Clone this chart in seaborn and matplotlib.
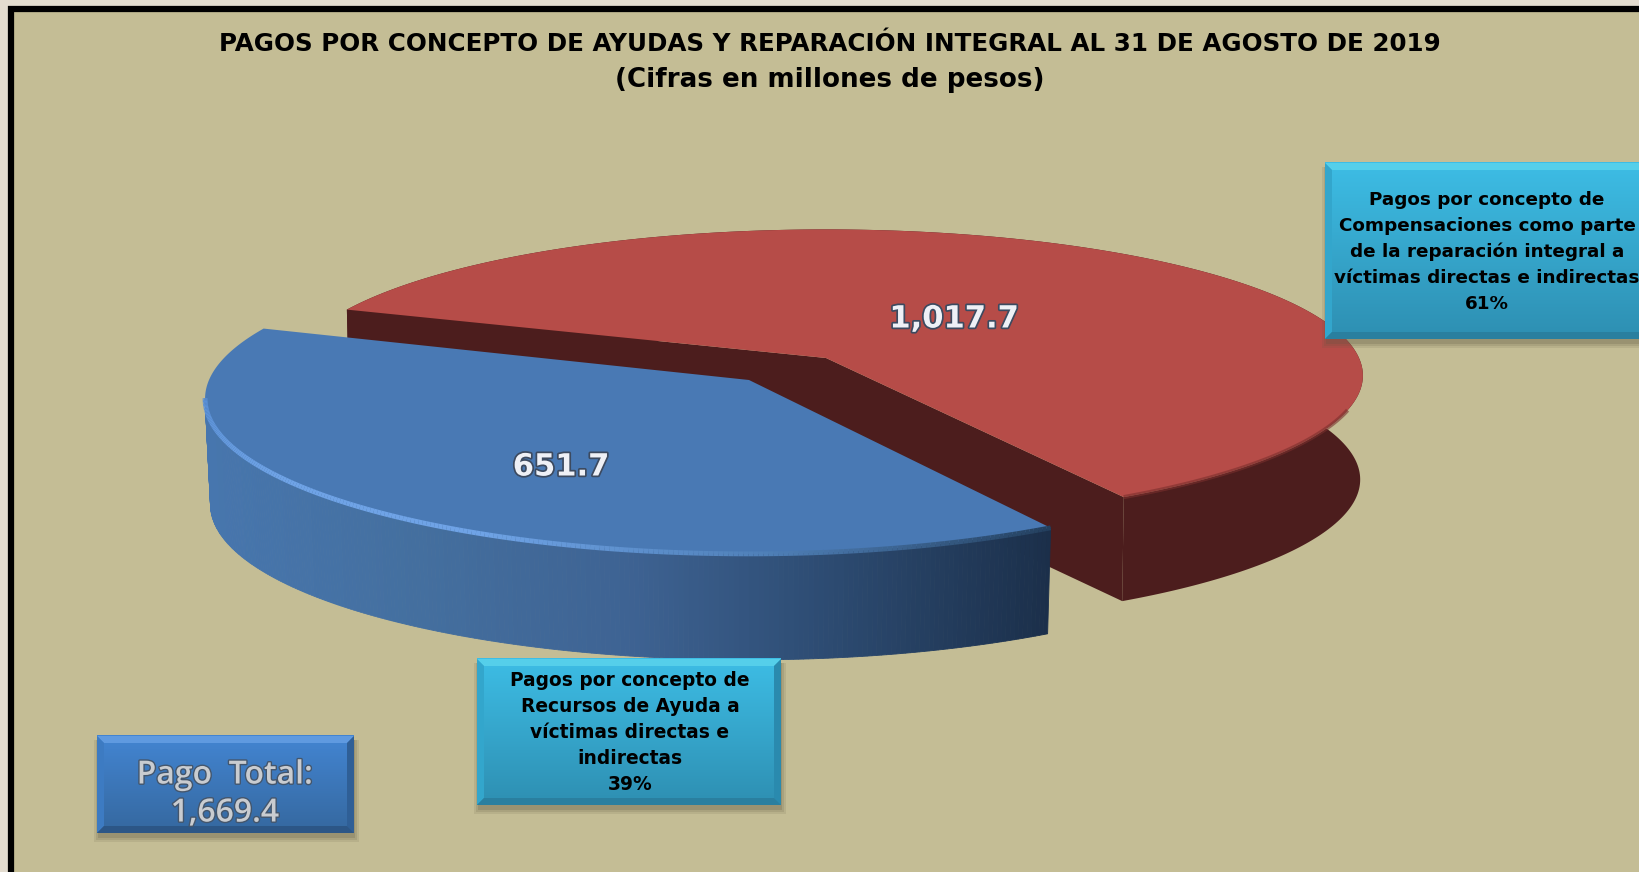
"""
Exploded 3D style pie of payments by concept, drawn in pixel-like axes
"""
import numpy as np
import seaborn as sns
import matplotlib.pyplot as plt
import matplotlib.patheffects as pe
from matplotlib.collections import LineCollection
from matplotlib.patches import Polygon, Rectangle

sns.set_theme(style='white')
plt.rcParams['font.family'] = ['DejaVu Sans']

title_lines = ['PAGOS POR CONCEPTO DE AYUDAS Y REPARACIÓN INTEGRAL AL 31 DE AGOSTO DE 2019',
               '(Cifras en millones de pesos)']
concepts = ['Compensaciones', 'Recursos de Ayuda']
pagos = [1017.7, 651.7]
pago_labels = ['1,017.7', '651.7']
pago_total = '1,669.4'
comp_text = ['Pagos por concepto de', 'Compensaciones como parte', 'de la reparación integral a',
             'víctimas directas e indirectas', '61%']
ayuda_text = ['Pagos por concepto de', 'Recursos de Ayuda a', 'víctimas directas e', 'indirectas', '39%']
total_text = ['Pago  Total:', pago_total]

W, H = 1640, 872
START = 159.5
P = 0.12


def rim(a1, a2, cx, cy, rx, ry, n=300):
    #perspective squashed circle, angles in degrees
    a = np.radians(np.linspace(a1, a2, n))
    u, v = np.cos(a), -np.sin(a)
    w = 1 / (1 - P * v)
    return cx + rx * u * w, cy + ry * v * w


def box(ax, x0, y0, x1, y1, top, bottom, light, left, right, base):
    for grow, alpha in [(5, 0.12), (3, 0.15), (1, 0.2)]:
        ax.add_patch(Rectangle((x0 - grow + 2, y0 + 4), x1 - x0 + 2 * grow - 2, y1 - y0 + grow, color='#5a5640', alpha=alpha, lw=0, zorder=5))
    cmap = sns.blend_palette([top, bottom], as_cmap=True)
    ax.imshow(np.linspace(0, 1, 100)[:, None], extent=(x0, x1, y1, y0), aspect='auto', cmap=cmap, zorder=6)
    b = 7
    ax.add_patch(Polygon([(x0, y0), (x1, y0), (x1 - b, y0 + b), (x0 + b, y0 + b)], color=light, lw=0, zorder=7))
    ax.add_patch(Polygon([(x0, y0), (x0 + b, y0 + b), (x0 + b, y1 - b), (x0, y1)], color=left, lw=0, zorder=7))
    ax.add_patch(Polygon([(x1, y0), (x1 - b, y0 + b), (x1 - b, y1 - b), (x1, y1)], color=right, lw=0, zorder=7))
    ax.add_patch(Polygon([(x0, y1), (x0 + b, y1 - b), (x1 - b, y1 - b), (x1, y1)], color=base, lw=0, zorder=7))


fig = plt.figure(figsize=(W / 100, H / 100), dpi=100, facecolor='#e3dccf')
ax = fig.add_axes([0, 0, 1, 1])
ax.axis('off')

ax.add_patch(Rectangle((11, 9.5), W + 40, H + 40, facecolor='#c4bd95', edgecolor='black', lw=4.5, zorder=0))

#slice angles come from the values, clockwise
sweep = np.array(pagos) / sum(pagos) * 360
red_end = START - sweep[0]
blue_end = red_end - sweep[1]

#red slice
red = dict(cx=826, cy=358, rx=533, ry=144)
depth = 104
rx_, ry_ = rim(START, red_end, **red)
low = dict(red, rx=red['rx'] * 0.995, cy=red['cy'] + depth)
lx, ly = rim(START, red_end, **low)
ax.add_patch(Polygon(np.c_[np.r_[rx_, lx[::-1]], np.r_[ry_, ly[::-1]]], color='#4c1d1d', lw=0, zorder=1))
ax.add_patch(Polygon([(rx_[0], ry_[0]), (826, 358), (826, 358 + depth), (lx[0], ly[0])], color='#4c1d1d', lw=0, zorder=1))
ax.add_patch(Polygon([(rx_[-1], ry_[-1]), (826, 358), (826, 358 + depth), (lx[-1], ly[-1])], color='#4c1d1d', lw=0, zorder=1))
ax.add_patch(Polygon(np.r_[np.c_[rx_, ry_], [(826, 358)]], color='#b64c48', lw=0, zorder=2))
front = ry_ > 410
ax.plot(rx_[front], ry_[front], color='#7a2f2d', lw=3, alpha=0.6, solid_capstyle='butt', zorder=2.5)

#blue slice, side shaded left to right
blue = dict(cx=749, cy=380, rx=540, ry=153)
depth = 106
bx, by = rim(red_end, blue_end, **blue)
low = dict(blue, rx=blue['rx'] * 0.99, cy=blue['cy'] + depth)
bx2, by2 = rim(red_end, blue_end, **low)
shade = sns.blend_palette(['#4776ae', '#446f9f', '#3e6393', '#2c4a70', '#1b2f4a'], 256)
#only the part of the wall in front of the leftmost point shows
leftmost = np.argmin(bx)
for i in range(leftmost):
    c = shade[int(np.clip((bx[i] - bx.min()) / (bx.max() - bx.min()), 0, 1) * 255)]
    ax.add_patch(Polygon([(bx[i], by[i]), (bx[i + 1], by[i + 1]), (bx2[i + 1], by2[i + 1]), (bx2[i], by2[i])],
                         facecolor=c, edgecolor=c, lw=0.6, zorder=3))
ax.add_patch(Polygon(np.r_[np.c_[bx, by], [(749, 380)]], color='#4979b4', lw=0, zorder=4))

#lit edge along the front of the blue slice
pts = np.c_[bx, by][:, None, :]
segs = np.concatenate([pts[:-1], pts[1:]], axis=1)
lit = sns.blend_palette(['#24405f', '#4f80b8', '#6fa3e6', '#6fa3e6', '#5a90d6', '#4979b4'], len(segs))
mask = np.arange(len(segs)) < leftmost
ax.add_collection(LineCollection(segs[mask], colors=np.array(lit)[mask], linewidths=3.5, zorder=4.5))

shadow = [pe.withStroke(linewidth=2.5, foreground='#3c4a60')]
ax.text(954, 319, pago_labels[0], color='#eef0f6', fontsize=22, fontweight='bold', ha='center', va='center',
        path_effects=shadow, zorder=8)
ax.text(561, 467, pago_labels[1], color='#eef0f6', fontsize=22, fontweight='bold', ha='center', va='center',
        path_effects=shadow, zorder=8)

#boxes
box(ax, 1325, 163, W + 20, 339, '#3dbde5', '#2e8fb2', '#55cfea', '#33a6cc', '#2a8aae', '#2a7f9f')
box(ax, 477, 659, 781, 805, '#3dbde5', '#2e8fb2', '#55cfea', '#33a6cc', '#2a8aae', '#2a7f9f')
box(ax, 97, 736, 354, 833, '#4385d2', '#35689f', '#5f9ae0', '#3d7bc2', '#2f5f96', '#2c5686')

for i, line in enumerate(comp_text):
    ax.text(1487, 200 + i * 26, line, color='black', fontsize=13.2, fontweight='bold', ha='center', va='center', zorder=9)
for i, line in enumerate(ayuda_text):
    ax.text(630, 680 + i * 26, line, color='black', fontsize=13.4, fontweight='bold', ha='center', va='center', zorder=9)
for i, line in enumerate(total_text):
    ax.text(225, 775 + i * 38, line, color='#c9ccd0', fontsize=23, fontweight='semibold', family='Open Sans',
            ha='center', va='center', path_effects=[pe.withStroke(linewidth=2, foreground='#44566c')], zorder=9)

ax.text(830, 44, title_lines[0], color='black', fontsize=17.75, fontweight='bold', ha='center', va='center', zorder=9)
ax.text(830, 80, title_lines[1], color='black', fontsize=18.8, fontweight='bold', ha='center', va='center', zorder=9)

ax.set_xlim(0, W)
ax.set_ylim(H, 0)
fig.savefig('out.png', dpi=100, facecolor=fig.get_facecolor())
